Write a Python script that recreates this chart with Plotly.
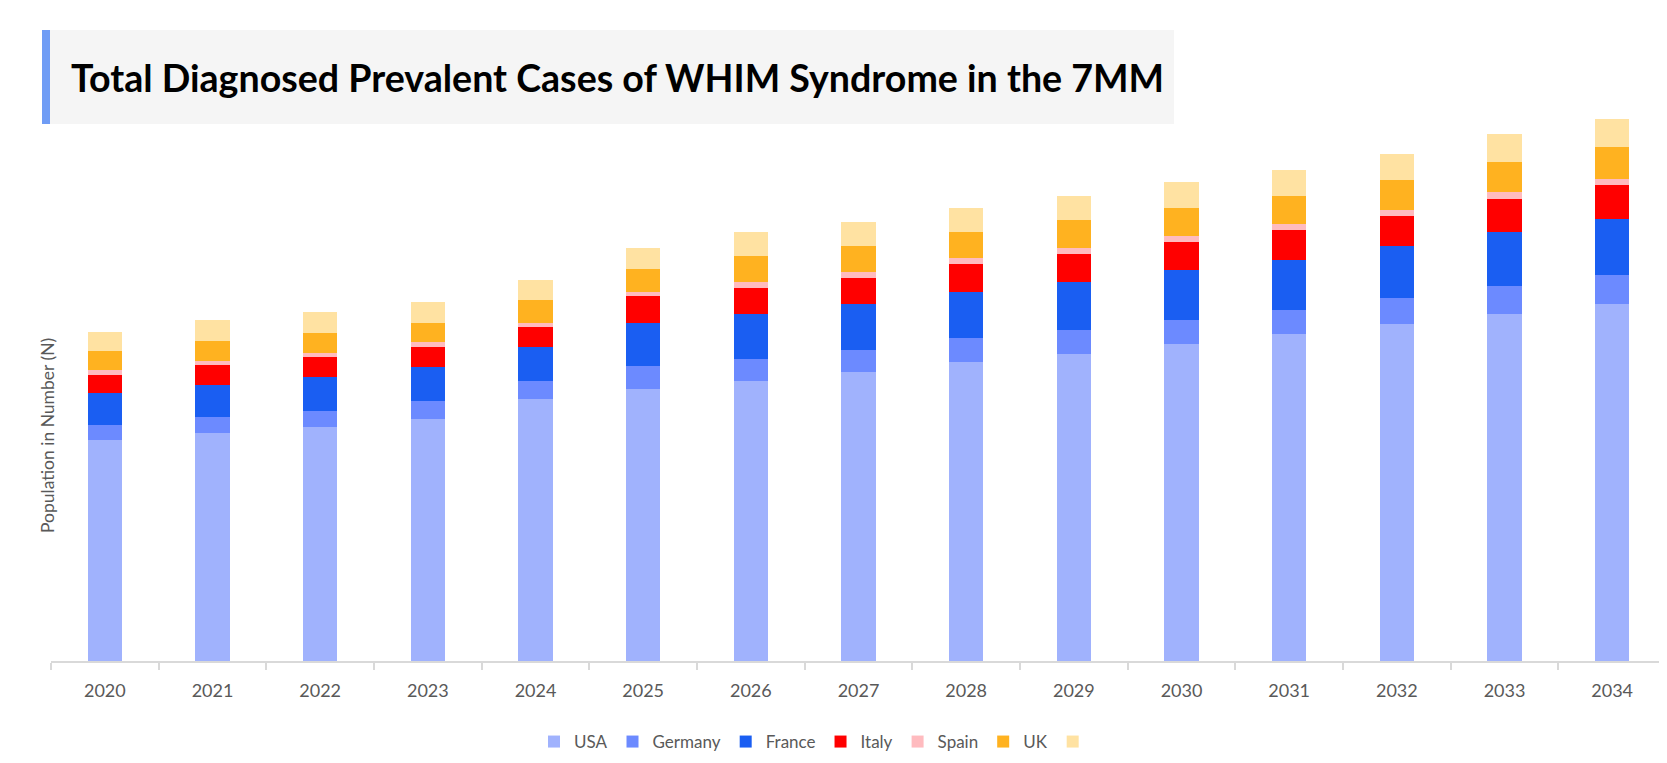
import plotly.graph_objects as go

# data (arbitrary case units, y axis unlabelled)
years = [str(y) for y in range(2020, 2035)]
usa = [442, 457, 469, 485, 525, 545, 561, 578, 598, 614, 634, 654, 674, 695, 714]
germany = [31, 32, 32, 36, 36, 45, 44, 44, 48, 48, 48, 48, 52, 55, 58]
france = [63, 63, 68, 68, 68, 87, 89, 92, 92, 96, 100, 100, 104, 109, 113]
italy = [37, 40, 39, 40, 40, 53, 52, 52, 56, 56, 56, 60, 60, 65, 67]
spain = [9, 9, 9, 9, 8, 8, 12, 12, 12, 12, 12, 12, 12, 14, 13]
uk = [39, 40, 40, 39, 45, 47, 52, 53, 52, 56, 56, 56, 60, 61, 63]
japan = [37, 41, 41, 41, 40, 41, 49, 48, 49, 49, 53, 53, 53, 56, 57]

series = [
    ("USA", usa, "#A0B2FD"),
    ("Germany", germany, "#6C8AFF"),
    ("France", france, "#1A5EF2"),
    ("Italy", italy, "#FF0000"),
    ("Spain", spain, "#FFBBBF"),
    ("UK", uk, "#FFB220"),
    ("", japan, "#FFE2A2"),
]

# page has an 8px body margin, so figure coords = screen coords - 8
OFF = 8
W, H = 1659, 755
L, T = 51 - OFF, 100 - OFF
R = W - (1666 - OFF)
B = H - (661 - OFF)
pw = W - L - R
ph = H - T - B


def px_x(p):
    return (p - OFF - L) / pw


def px_y(p):
    return (H - B - (p - OFF)) / ph


fig = go.Figure()
for name, vals, col in series:
    fig.add_trace(go.Bar(x=years, y=vals, name=name, marker_color=col,
                         marker_line_width=0))

# title box
fig.add_shape(type="rect", xref="paper", yref="paper",
              x0=px_x(42), x1=px_x(1174), y0=px_y(124), y1=px_y(30),
              fillcolor="#F5F5F5", line_width=0, layer="below")
fig.add_shape(type="rect", xref="paper", yref="paper",
              x0=px_x(42), x1=px_x(50), y0=px_y(124), y1=px_y(30),
              fillcolor="#6F9CF5", line_width=0)
fig.add_annotation(text="<b>Total Diagnosed Prevalent Cases of WHIM Syndrome in the 7MM</b>",
                   xref="paper", yref="paper", x=px_x(69), y=px_y(78),
                   xanchor="left", yanchor="middle", showarrow=False,
                   font=dict(family="Lato", size=37.6, color="#000000"))
fig.add_annotation(text="Population in Number (N)", textangle=-90,
                   xref="paper", yref="paper", x=px_x(47), y=px_y(436),
                   xanchor="center", yanchor="middle", showarrow=False,
                   font=dict(family="Lato", size=17.5, color="#595959"))

fig.update_layout(
    width=W, height=H,
    barmode="stack", bargap=0.684,
    margin=dict(l=L, r=R, t=T, b=B),
    paper_bgcolor="white", plot_bgcolor="white",
    font=dict(family="Lato", color="#595959"),
    legend=dict(orientation="h", x=px_x(816), y=px_y(742),
                xanchor="center", yanchor="middle",
                font=dict(family="Lato", size=17, color="#595959"),
                traceorder="normal"),
)
fig.update_xaxes(showline=True, linecolor="#D9D9D9", linewidth=2,
                 ticks="outside", tickson="boundaries", ticklen=7,
                 tickcolor="#D9D9D9", tickwidth=2, ticklabelstandoff=12,
                 tickfont=dict(family="Lato", size=18, color="#595959"),
                 showgrid=False)
fig.update_yaxes(range=[0, ph * 2], visible=False, showgrid=False)

fig.write_html("out.html")
